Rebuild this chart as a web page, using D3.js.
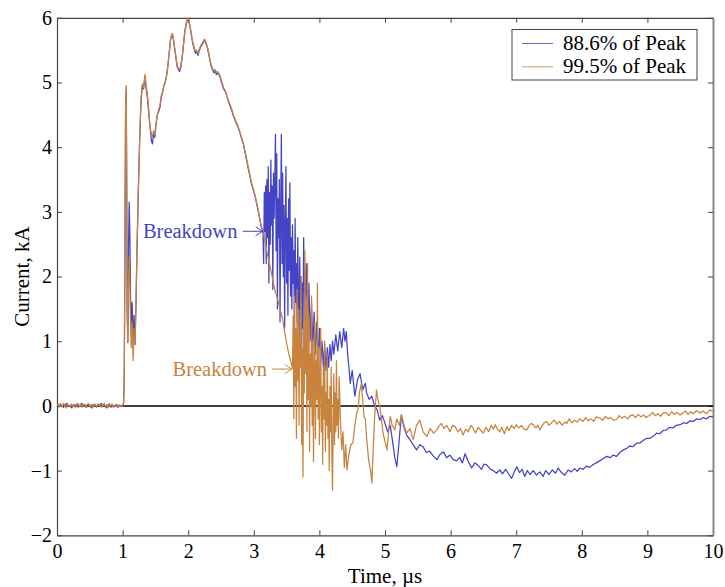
<!DOCTYPE html>
<html>
<head>
<meta charset="utf-8">
<script src="https://cdn.jsdelivr.net/npm/d3@7"></script>
<style>
  body { margin: 0; background: #fff; }
  svg { display: block; font-family: "Liberation Serif", "Times New Roman", serif; }
</style>
</head>
<body>
<div id="chart"></div>
<script>
// ---- data (time in µs, current in kA) ----
const xTicks = [0, 1, 2, 3, 4, 5, 6, 7, 8, 9, 10];
const yTicks = [-2, -1, 0, 1, 2, 3, 4, 5, 6];
const seriesNames = ['88.6% of Peak', '99.5% of Peak'];
const seriesColors = ['#4444c6', '#c8843e'];

// pre-trigger noise
const noiseBlue = [[0,0.02],[0.025,-0.01],[0.05,0.03],[0.075,0.0],[0.1,-0.02],[0.125,0.02],[0.15,0.04],[0.175,-0.01],[0.2,0.01],[0.225,-0.03],[0.25,0.02],[0.275,0.0],[0.3,0.03],[0.325,-0.02],[0.35,0.01],[0.375,0.04],[0.4,-0.01],[0.425,0.02],[0.45,-0.02],[0.475,0.03],[0.5,0.0],[0.525,-0.03],[0.55,0.02],[0.575,0.01],[0.6,-0.02],[0.625,0.03],[0.65,0.0],[0.675,0.04],[0.7,-0.01],[0.725,0.02],[0.75,-0.03],[0.775,0.01],[0.8,0.03],[0.825,-0.02],[0.85,0.01],[0.875,-0.01],[0.9,0.02],[0.925,-0.02],[0.95,0.01],[0.975,-0.01],[1.0,0.0]];
const noiseOrange = [[0,0.0],[0.02,0.03],[0.04,-0.02],[0.06,0.02],[0.08,-0.01],[0.1,0.04],[0.12,0.0],[0.14,-0.03],[0.16,0.02],[0.18,0.01],[0.2,-0.02],[0.22,0.03],[0.24,-0.01],[0.26,0.02],[0.28,-0.03],[0.3,0.01],[0.32,0.04],[0.34,-0.01],[0.36,0.02],[0.38,-0.02],[0.4,0.03],[0.42,0.0],[0.44,-0.02],[0.46,0.02],[0.48,0.04],[0.5,-0.01],[0.52,0.02],[0.54,-0.03],[0.56,0.01],[0.58,0.03],[0.6,-0.02],[0.62,0.02],[0.64,0.0],[0.66,0.03],[0.68,-0.02],[0.7,0.01],[0.72,0.04],[0.74,-0.01],[0.76,0.02],[0.78,-0.03],[0.8,0.02],[0.82,0.0],[0.84,0.03],[0.86,-0.02],[0.88,0.01],[0.9,-0.01],[0.92,0.02],[0.94,-0.02],[0.96,0.01],[0.98,-0.01],[1.0,0.0]];

// trigger spike and main pulse up to breakdown
const riseBlue = [[1.015,0.05],[1.025,0.45],[1.035,2.2],[1.045,4.5],[1.055,4.9],[1.062,3.5],[1.07,1.4],[1.08,0.98],[1.09,2.4],[1.1,3.15],[1.11,2.7],[1.12,1.8],[1.13,1.2],[1.145,1.6],[1.16,1.0],[1.175,1.4],[1.19,0.95],[1.205,1.6],[1.22,2.4],[1.24,3.3],[1.26,4.1],[1.28,4.7],[1.3,4.95],[1.32,4.9],[1.34,5.1],[1.36,4.9],[1.38,4.75],[1.4,4.5],[1.42,4.3],[1.44,4.1],[1.455,4.05],[1.47,4.2],[1.49,4.15],[1.51,4.35],[1.53,4.5],[1.55,4.55],[1.57,4.62],[1.59,4.78],[1.61,4.85],[1.63,4.95],[1.65,5.0],[1.67,5.1],[1.69,5.25],[1.71,5.45],[1.73,5.65],[1.755,5.75],[1.77,5.7],[1.79,5.55],[1.81,5.4],[1.83,5.25],[1.85,5.2],[1.87,5.17],[1.89,5.25],[1.91,5.4],[1.93,5.6],[1.95,5.8],[1.97,5.9],[1.99,5.98],[2.01,5.95],[2.03,5.85],[2.05,5.72],[2.07,5.6],[2.09,5.52],[2.11,5.45],[2.13,5.48],[2.15,5.42],[2.17,5.5],[2.19,5.55],[2.21,5.58],[2.23,5.62],[2.25,5.66],[2.27,5.6],[2.29,5.55],[2.31,5.45],[2.33,5.35],[2.35,5.25],[2.37,5.2],[2.39,5.15],[2.41,5.18],[2.43,5.12],[2.45,5.15],[2.48,5.1],[2.51,5.0],[2.54,4.9],[2.57,4.85],[2.6,4.75],[2.63,4.66],[2.66,4.58],[2.69,4.48],[2.72,4.4],[2.75,4.33],[2.78,4.25],[2.81,4.15],[2.84,4.05],[2.87,3.9],[2.9,3.75],[2.93,3.6],[2.96,3.45],[2.99,3.35],[3.02,3.24],[3.05,3.1],[3.08,2.95],[3.11,2.78],[3.14,2.68]];
const riseOrange = [[1.015,0.05],[1.025,0.4],[1.035,2.4],[1.045,4.6],[1.055,4.95],[1.062,3.8],[1.07,1.6],[1.08,1.0],[1.09,1.9],[1.1,2.3],[1.11,1.9],[1.12,1.3],[1.13,0.9],[1.145,1.3],[1.16,0.7],[1.175,1.2],[1.19,1.0],[1.205,1.7],[1.22,2.5],[1.24,3.4],[1.26,4.1],[1.28,4.75],[1.3,4.98],[1.32,4.92],[1.34,5.12],[1.36,4.95],[1.38,4.8],[1.4,4.55],[1.42,4.3],[1.44,4.2],[1.455,4.15],[1.47,4.25],[1.49,4.2],[1.51,4.38],[1.53,4.5],[1.55,4.58],[1.57,4.65],[1.59,4.8],[1.61,4.86],[1.63,4.95],[1.65,5.02],[1.67,5.1],[1.69,5.27],[1.71,5.45],[1.73,5.66],[1.755,5.76],[1.77,5.72],[1.79,5.56],[1.81,5.42],[1.83,5.28],[1.85,5.22],[1.87,5.2],[1.89,5.27],[1.91,5.42],[1.93,5.62],[1.95,5.8],[1.97,5.92],[1.99,5.99],[2.01,5.96],[2.03,5.86],[2.05,5.74],[2.07,5.62],[2.09,5.55],[2.11,5.48],[2.13,5.5],[2.15,5.45],[2.17,5.52],[2.19,5.57],[2.21,5.6],[2.23,5.64],[2.25,5.67],[2.27,5.62],[2.29,5.56],[2.31,5.47],[2.33,5.37],[2.35,5.27],[2.37,5.22],[2.39,5.18],[2.41,5.2],[2.43,5.15],[2.45,5.17],[2.48,5.12],[2.51,5.02],[2.54,4.92],[2.57,4.86],[2.6,4.76],[2.63,4.68],[2.66,4.6],[2.69,4.5],[2.72,4.42],[2.75,4.35],[2.78,4.26],[2.81,4.16],[2.84,4.06],[2.87,3.92],[2.9,3.77],[2.93,3.62],[2.96,3.47],[2.99,3.36],[3.02,3.25],[3.05,3.11],[3.08,2.96],[3.11,2.8],[3.14,2.69],[3.17,2.55],[3.2,2.38],[3.23,2.24],[3.26,2.1],[3.29,1.94],[3.32,1.8],[3.35,1.69],[3.38,1.58],[3.41,1.46],[3.44,1.34],[3.47,1.15],[3.5,0.97],[3.53,0.82],[3.56,0.7],[3.59,0.58]];

// after breakdown
const tailBlue = [[3.15,2.2],[3.16,3.3],[3.17,2.7],[3.18,3.4],[3.19,2.2],[3.2,3.5],[3.21,2.6],[3.22,3.7],[3.23,1.9],[3.24,3.3],[3.25,2.5],[3.26,3.8],[3.27,2.8],[3.28,3.4],[3.29,1.8],[3.3,3.6],[3.31,2.9],[3.32,3.5],[3.33,4.2],[3.34,2.4],[3.35,3.9],[3.36,1.5],[3.37,3.2],[3.38,2.6],[3.39,3.5],[3.4,1.3],[3.41,3.0],[3.42,4.2],[3.43,2.2],[3.44,3.6],[3.45,2.0],[3.46,3.1],[3.47,1.2],[3.48,2.8],[3.49,3.7],[3.5,1.9],[3.51,2.9],[3.52,1.4],[3.53,3.2],[3.54,2.1],[3.55,3.45],[3.56,1.7],[3.57,2.6],[3.58,1.5],[3.59,2.8],[3.6,1.9],[3.61,2.4],[3.62,1.1],[3.63,2.9],[3.64,1.6],[3.65,2.2],[3.66,1.3],[3.67,2.6],[3.68,1.8],[3.69,1.07],[3.7,2.3],[3.71,1.5],[3.72,2.0],[3.73,0.9],[3.74,1.9],[3.75,1.2],[3.76,2.6],[3.78,1.4],[3.8,2.2],[3.82,1.1],[3.84,1.9],[3.86,1.0],[3.88,1.6],[3.9,0.9],[3.92,1.45],[3.94,0.8],[3.96,1.3],[3.98,0.7],[4.0,1.2],[4.02,0.66],[4.04,1.0],[4.06,0.6],[4.08,0.95],[4.1,0.55],[4.12,0.9],[4.14,0.6],[4.16,0.95],[4.18,0.7],[4.2,1.0],[4.22,0.8],[4.25,1.1],[4.28,0.85],[4.31,1.15],[4.34,0.9],[4.37,1.2],[4.39,1.0],[4.41,1.15],[4.43,0.8],[4.45,0.6],[4.47,0.35],[4.5,0.55],[4.54,0.15],[4.58,0.4],[4.62,0.5],[4.66,0.25],[4.7,0.35],[4.72,0.2],[4.76,0.1],[4.8,0.15],[4.84,0.0],[4.88,-0.06],[4.92,-0.22],[4.96,-0.15],[5.0,-0.27],[5.04,-0.4],[5.08,-0.3],[5.12,-0.58],[5.15,-0.8],[5.18,-0.94],[5.21,-0.6],[5.25,-0.14],[5.28,-0.3],[5.33,-0.45],[5.38,-0.52],[5.43,-0.6],[5.48,-0.68],[5.53,-0.6],[5.58,-0.63],[5.63,-0.72],[5.68,-0.7],[5.74,-0.78],[5.79,-0.83],[5.84,-0.75],[5.89,-0.71],[5.94,-0.8],[5.99,-0.76],[6.04,-0.83],[6.09,-0.85],[6.14,-0.8],[6.18,-0.88],[6.22,-0.74],[6.27,-0.86],[6.32,-0.96],[6.37,-0.88],[6.42,-0.92],[6.47,-0.98],[6.51,-0.9],[6.55,-0.91],[6.6,-0.97],[6.65,-1.0],[6.7,-1.04],[6.75,-0.99],[6.79,-1.05],[6.84,-0.98],[6.89,-1.06],[6.93,-1.12],[6.97,-1.02],[7.01,-0.94],[7.05,-1.03],[7.09,-0.98],[7.13,-1.09],[7.17,-1.0],[7.21,-1.06],[7.26,-1.0],[7.31,-1.07],[7.36,-1.02],[7.41,-1.09],[7.45,-1.0],[7.5,-1.06],[7.55,-0.99],[7.6,-1.04],[7.64,-0.96],[7.69,-1.03],[7.74,-1.07],[7.79,-0.99],[7.84,-1.02],[7.89,-0.97],[7.93,-1.01],[7.97,-0.96],[8.02,-0.98],[8.07,-0.93],[8.12,-0.95],[8.17,-0.91],[8.22,-0.88],[8.27,-0.85],[8.32,-0.82],[8.38,-0.78],[8.43,-0.8],[8.48,-0.76],[8.53,-0.78],[8.58,-0.72],[8.63,-0.68],[8.68,-0.66],[8.73,-0.62],[8.78,-0.63],[8.83,-0.58],[8.89,-0.57],[8.94,-0.53],[8.99,-0.5],[9.04,-0.5],[9.09,-0.47],[9.14,-0.42],[9.19,-0.43],[9.24,-0.38],[9.29,-0.37],[9.34,-0.33],[9.39,-0.34],[9.44,-0.3],[9.5,-0.29],[9.55,-0.26],[9.6,-0.27],[9.65,-0.23],[9.7,-0.24],[9.75,-0.2],[9.8,-0.21],[9.85,-0.18],[9.9,-0.2],[9.95,-0.16],[10.0,-0.17]];
const tailOrange = [[3.6,1.4],[3.61,-0.2],[3.62,1.7],[3.63,0.3],[3.64,1.2],[3.65,-0.5],[3.66,1.8],[3.67,0.4],[3.68,1.5],[3.69,-0.3],[3.7,1.1],[3.71,0.6],[3.72,2.0],[3.73,-0.6],[3.74,0.9],[3.75,-1.1],[3.76,1.3],[3.77,0.2],[3.78,2.4],[3.79,0.5],[3.8,1.6],[3.81,-0.4],[3.82,2.2],[3.83,0.1],[3.84,1.4],[3.85,-0.7],[3.86,0.8],[3.87,0.0],[3.88,1.7],[3.89,-0.3],[3.9,1.0],[3.91,-0.86],[3.92,0.6],[3.93,1.3],[3.94,-0.5],[3.95,0.7],[3.96,0.1],[3.97,1.9],[3.98,-0.2],[3.99,0.9],[4.0,-0.6],[4.01,0.5],[4.02,1.2],[4.03,-0.4],[4.04,0.3],[4.05,-0.9],[4.06,0.6],[4.07,-0.2],[4.08,1.0],[4.09,-0.7],[4.1,0.2],[4.11,-0.3],[4.12,0.8],[4.13,-0.5],[4.14,0.1],[4.15,-1.0],[4.16,0.3],[4.17,-0.4],[4.18,0.6],[4.19,-0.8],[4.2,-1.3],[4.21,-0.2],[4.22,0.5],[4.23,-0.6],[4.24,0.2],[4.25,-0.4],[4.26,0.7],[4.27,-0.3],[4.28,0.1],[4.29,-0.5],[4.3,0.45],[4.32,-0.2],[4.34,-0.68],[4.36,-0.4],[4.38,-0.95],[4.4,-0.6],[4.42,-0.99],[4.45,-0.75],[4.48,-0.6],[4.51,-0.57],[4.54,-0.3],[4.57,-0.1],[4.59,-0.06],[4.61,0.2],[4.64,0.35],[4.66,0.1],[4.68,-0.16],[4.7,-0.2],[4.72,-0.5],[4.75,-0.83],[4.78,-1.0],[4.8,-1.19],[4.82,-0.68],[4.84,-0.2],[4.87,0.25],[4.89,0.1],[4.92,-0.01],[4.95,-0.25],[4.97,-0.42],[5.0,-0.55],[5.03,-0.68],[5.06,-0.35],[5.08,-0.16],[5.11,-0.3],[5.15,-0.37],[5.18,-0.2],[5.22,-0.3],[5.25,-0.14],[5.29,-0.3],[5.33,-0.42],[5.38,-0.35],[5.43,-0.52],[5.48,-0.3],[5.53,-0.22],[5.58,-0.4],[5.64,-0.47],[5.69,-0.35],[5.74,-0.42],[5.79,-0.37],[5.83,-0.3],[5.86,-0.27],[5.9,-0.35],[5.94,-0.3],[5.99,-0.4],[6.03,-0.3],[6.07,-0.32],[6.11,-0.4],[6.15,-0.35],[6.19,-0.45],[6.23,-0.36],[6.27,-0.4],[6.31,-0.3],[6.34,-0.34],[6.38,-0.42],[6.42,-0.33],[6.46,-0.38],[6.5,-0.42],[6.54,-0.33],[6.58,-0.4],[6.62,-0.3],[6.65,-0.36],[6.68,-0.29],[6.72,-0.37],[6.75,-0.4],[6.78,-0.33],[6.82,-0.43],[6.86,-0.32],[6.89,-0.38],[6.93,-0.3],[6.97,-0.35],[7.0,-0.29],[7.04,-0.34],[7.08,-0.3],[7.12,-0.36],[7.16,-0.37],[7.2,-0.3],[7.23,-0.27],[7.26,-0.29],[7.3,-0.34],[7.33,-0.3],[7.36,-0.37],[7.4,-0.3],[7.43,-0.26],[7.46,-0.24],[7.5,-0.3],[7.54,-0.26],[7.58,-0.22],[7.62,-0.28],[7.66,-0.24],[7.7,-0.3],[7.74,-0.25],[7.77,-0.27],[7.81,-0.2],[7.85,-0.26],[7.89,-0.22],[7.93,-0.25],[7.97,-0.2],[8.02,-0.24],[8.06,-0.18],[8.1,-0.23],[8.14,-0.2],[8.18,-0.24],[8.22,-0.17],[8.28,-0.19],[8.32,-0.22],[8.36,-0.16],[8.4,-0.2],[8.44,-0.18],[8.48,-0.22],[8.53,-0.21],[8.57,-0.15],[8.61,-0.19],[8.65,-0.16],[8.7,-0.2],[8.74,-0.15],[8.78,-0.14],[8.82,-0.18],[8.86,-0.13],[8.9,-0.17],[8.94,-0.14],[8.98,-0.18],[9.04,-0.14],[9.08,-0.1],[9.12,-0.15],[9.16,-0.12],[9.2,-0.16],[9.25,-0.1],[9.29,-0.11],[9.33,-0.15],[9.37,-0.09],[9.41,-0.13],[9.45,-0.1],[9.5,-0.14],[9.54,-0.11],[9.58,-0.08],[9.62,-0.13],[9.66,-0.09],[9.7,-0.12],[9.75,-0.07],[9.8,-0.11],[9.85,-0.08],[9.9,-0.12],[9.95,-0.06],[10.0,-0.08]];

// annotation arrows: [text start t, tip t, current]
const breakdownMarks = [
  { label: 'Breakdown', from: 1.31, tip: 3.135, value: 2.7 },
  { label: 'Breakdown', from: 1.76, tip: 3.58, value: 0.57 },
];

// ---- chart ----
const W = 725, H = 587;
const svg = d3.select('#chart').append('svg').attr('width', W).attr('height', H);

const x = d3.scaleLinear().domain([0, 10]).range([57, 713]);
const y = d3.scaleLinear().domain([-2, 6]).range([535.3, 17.8]);

const frame = '#444';

// axes with inward ticks
const gx = svg.append('g').attr('transform', `translate(0,${y(-2)})`)
  .call(d3.axisBottom(x).tickValues(xTicks).tickSizeInner(-5).tickSizeOuter(0).tickPadding(9).tickFormat(d3.format('d')));
const gy = svg.append('g').attr('transform', `translate(${x(0)},0)`)
  .call(d3.axisLeft(y).tickValues(yTicks).tickSizeInner(-5).tickSizeOuter(0).tickPadding(5).tickFormat(d3.format('d')));
const gt = svg.append('g').attr('transform', `translate(0,${y(6)})`)
  .call(d3.axisTop(x).tickValues(xTicks).tickSizeInner(-5).tickSizeOuter(0).tickFormat(''));
const gr = svg.append('g').attr('transform', `translate(${x(10)},0)`)
  .call(d3.axisRight(y).tickValues(yTicks).tickSizeInner(-5).tickSizeOuter(0).tickFormat(''));

[gx, gy, gt, gr].forEach(g => {
  g.select('.domain').attr('stroke', frame).attr('stroke-width', 1.2);
  g.selectAll('.tick line').attr('stroke', frame);
  g.selectAll('.tick text').attr('fill', '#000').style('font-family', '"Liberation Serif", serif').style('font-size', '20px');
});
gr.select('.domain').attr('stroke', '#888').attr('stroke-width', 2);

// zero reference line
svg.append('line')
  .attr('x1', x(0)).attr('x2', x(10))
  .attr('y1', y(0)).attr('y2', y(0))
  .attr('stroke', '#000').attr('stroke-width', 1.5);

// traces
const line = d3.line().x(d => x(d[0])).y(d => y(d[1]));
const blue = noiseBlue.concat(riseBlue, tailBlue);
const orange = noiseOrange.concat(riseOrange, tailOrange);

[blue, orange].forEach((s, i) => {
  svg.append('path').datum(s)
    .attr('d', line)
    .attr('fill', 'none')
    .attr('stroke', seriesColors[i])
    .attr('stroke-width', 1.25)
    .attr('stroke-linejoin', 'round');
});

// breakdown annotations
breakdownMarks.forEach((m, i) => {
  const c = seriesColors[i];
  const ty = y(m.value);
  svg.append('text')
    .attr('x', x(m.from)).attr('y', ty + 6.5)
    .attr('fill', c)
    .style('font-size', '20.5px')
    .text(m.label);
  svg.append('line')
    .attr('x1', x(m.tip) - 20).attr('x2', x(m.tip))
    .attr('y1', ty).attr('y2', ty)
    .attr('stroke', c).attr('stroke-width', 1);
  svg.append('path')
    .attr('d', `M${x(m.tip) - 7},${ty - 4.5}L${x(m.tip)},${ty}L${x(m.tip) - 7},${ty + 4.5}`)
    .attr('fill', 'none').attr('stroke', c).attr('stroke-width', 1);
});

// axis titles
svg.append('text')
  .attr('transform', `translate(29,${(y(6) + y(-2)) / 2}) rotate(-90)`)
  .attr('text-anchor', 'middle')
  .style('font-size', '21px')
  .text('Current, kA');
svg.append('text')
  .attr('x', (x(0) + x(10)) / 2).attr('y', 583)
  .attr('text-anchor', 'middle')
  .style('font-size', '21px')
  .text('Time, µs');

// legend
const lg = svg.append('g');
lg.append('rect')
  .attr('x', 512).attr('y', 29.5).attr('width', 185).attr('height', 50.5)
  .attr('fill', '#fff').attr('stroke', frame).attr('stroke-width', 1);
seriesNames.forEach((n, i) => {
  const ly = 43.5 + i * 23.3;
  lg.append('line')
    .attr('x1', 522).attr('x2', 553).attr('y1', ly).attr('y2', ly)
    .attr('stroke', seriesColors[i]).attr('stroke-width', 1).attr('stroke-opacity', 0.8);
  lg.append('text')
    .attr('x', 563).attr('y', ly + 6)
    .style('font-size', '21px')
    .text(n);
});
</script>
</body>
</html>
